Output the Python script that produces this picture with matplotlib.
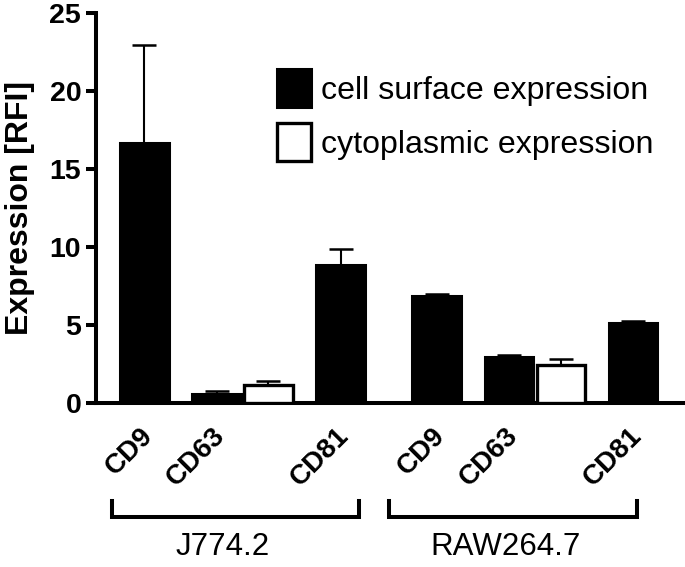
import matplotlib
matplotlib.use("Agg")
import matplotlib.pyplot as plt
import matplotlib.transforms as mtransforms
from matplotlib.patches import Patch

plt.rcParams["font.family"] = ["Liberation Sans", "DejaVu Sans"]

# data
groups = ["J774.2", "RAW264.7"]
markers = ["CD9", "CD63", "CD81"]
surface_mean = [[16.67, 0.58, 8.87], [6.87, 2.93, 5.16]]
surface_err = [[6.32, 0.18, 0.98], [0.12, 0.12, 0.12]]
cyto_mean = [1.14, 2.45]   # only measured for CD63
cyto_err = [0.27, 0.39]
legend_labels = ["cell surface expression", "cytoplasmic expression"]

# layout (bar width = 1 data unit)
w = 1.0
pair_gap = 0.07
cat_gap = 0.49
group_gap = 0.98

surf_x, cyto_x, group_span = [], [], []
x = 0.0
for g in range(len(groups)):
    start = x - w / 2
    for m, name in enumerate(markers):
        surf_x.append(x)
        if name == "CD63":
            x += w + pair_gap
            cyto_x.append(x)
        x += w + cat_gap
    x -= cat_gap
    group_span.append((start, x - w / 2))
    x += group_gap

surf_vals = [v for row in surface_mean for v in row]
surf_errs = [v for row in surface_err for v in row]

fig = plt.figure(figsize=(6.85, 5.67), dpi=100)
ax = fig.add_axes([96 / 685, 164 / 567, 589 / 685, 389.7 / 567])

ax.bar(surf_x, surf_vals, width=w, color="black", edgecolor="black", lw=2.2, zorder=3)
ax.bar(cyto_x, cyto_mean, width=w, color="white", edgecolor="black", lw=2.4, zorder=3)
ekw = dict(fmt="none", ecolor="black", elinewidth=1.5, capsize=8.5, capthick=1.8, zorder=2)
ax.errorbar(surf_x, surf_vals, yerr=[[0] * len(surf_errs), surf_errs], **ekw)
ax.errorbar(cyto_x, cyto_mean, yerr=[[0] * len(cyto_err), cyto_err], **ekw)

ax.set_xlim(-0.995, 11.15)
ax.set_ylim(0, 25)
ax.set_yticks([0, 5, 10, 15, 20, 25])
ax.tick_params(axis="y", length=7.2, width=2.9, pad=3.5, labelsize=20.5)
for t in ax.get_yticklabels():
    t.set_fontweight("bold")

ax.set_xticks([p + 0.1 for p in surf_x])
ax.set_xticklabels(markers * len(groups), rotation=45, rotation_mode="anchor",
                   ha="right", va="center", fontsize=20, fontweight="bold")
ax.tick_params(axis="x", length=0, pad=21)

for s in ["top", "right"]:
    ax.spines[s].set_visible(False)
for s in ["left", "bottom"]:
    ax.spines[s].set_linewidth(2.9)

ax.set_ylabel("Expression [RFI]", fontsize=23, fontweight="bold")
ax.yaxis.set_label_coords(-0.103, 0.5)

# group brackets below the axis
trans = mtransforms.blended_transform_factory(ax.transData, ax.transAxes)
bracket_off = [(-0.17, -0.12), (-0.48, -0.42)]
label_off = [1.61 - group_span[0][0], 7.44 - group_span[1][0]]
for g, name in enumerate(groups):
    x0 = group_span[g][0] + bracket_off[g][0]
    x1 = group_span[g][1] + bracket_off[g][1]
    ax.plot([x0, x0, x1, x1], [-0.2515, -0.2925, -0.2925, -0.2515], color="black",
            lw=2.9, transform=trans, clip_on=False, solid_joinstyle="miter")
    ax.text(group_span[g][0] + label_off[g], -0.37, name, transform=trans,
            ha="center", va="center", fontsize=22.5)

handles = [Patch(facecolor="black", edgecolor="black", lw=2.2),
           Patch(facecolor="white", edgecolor="black", lw=2.4)]
ax.legend(handles, legend_labels, loc="upper left", bbox_to_anchor=(0.307, 0.857),
          frameon=False, fontsize=23.1, handlelength=1.08, handleheight=1.45,
          handletextpad=0.3, labelspacing=0.5, borderpad=0, borderaxespad=0)

fig.savefig("out.png", dpi=100)
